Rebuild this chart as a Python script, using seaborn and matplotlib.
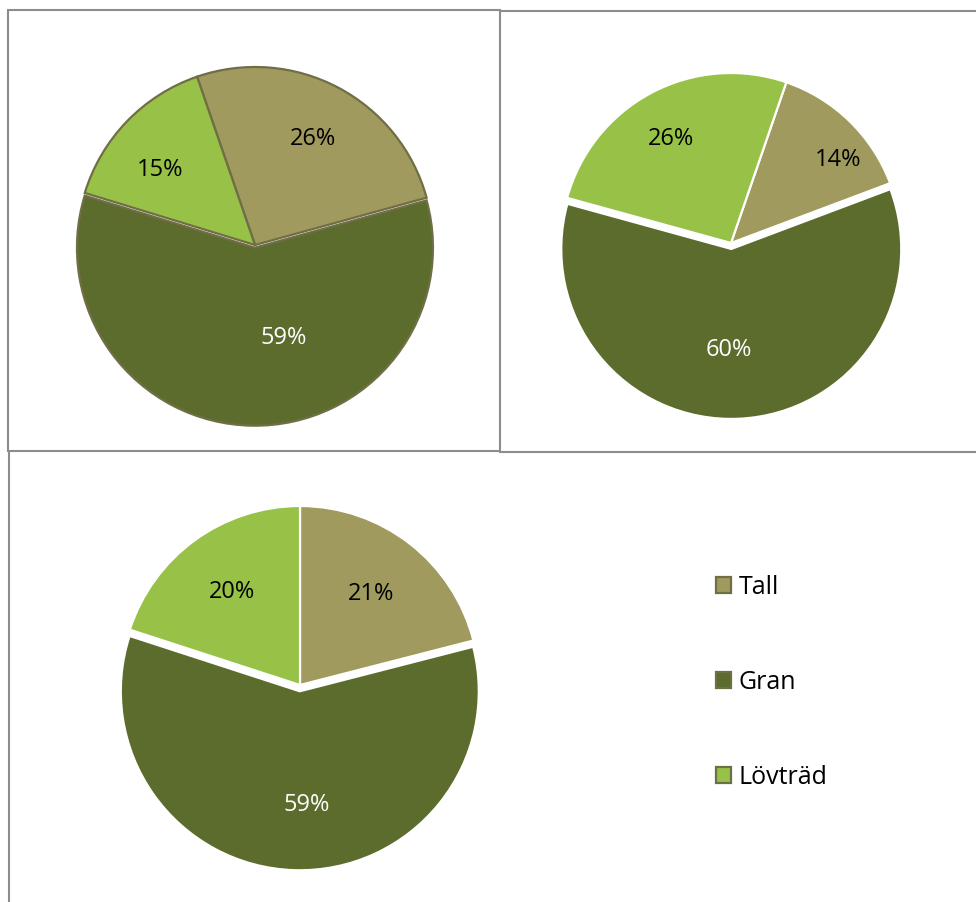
import matplotlib
matplotlib.use("Agg")
import matplotlib.pyplot as plt
from matplotlib.lines import Line2D
import seaborn as sns

# data
species = ["Tall", "Gran", "Lövträd"]
share_a = [26, 59, 15]
share_b = [14, 60, 26]
share_c = [21, 59, 20]

colors = ["#a19a5e", "#5b6c2d", "#97c247"]
text_colors = ["black", "white", "black"]

sns.set_theme(style="white")
plt.rcParams["font.family"] = ["Open Sans", "DejaVu Sans"]

W, H = 976, 903
fig = plt.figure(figsize=(W / 100, H / 100), dpi=100)


def px_axes(cx, cy, r):
    # axes whose data unit equals r pixels, centred on (cx, cy) in image pixels
    half = 1.25
    w = 2 * half * r / W
    h = 2 * half * r / H
    ax = fig.add_axes([cx / W - w / 2, 1 - cy / H - h / 2, w, h])
    ax.set_xlim(-half, half)
    ax.set_ylim(-half, half)
    ax.axis("off")
    return ax


def draw_pie(ax, values, start, explode, edge, pctdist, nudges):
    wedges, _, autotexts = ax.pie(
        values, colors=colors, startangle=start, counterclock=False,
        explode=explode, autopct="%.0f%%", pctdistance=pctdist,
        wedgeprops=dict(edgecolor=edge, linewidth=1.6),
        textprops=dict(fontsize=17))
    for t, c, (dx, dy) in zip(autotexts, text_colors, nudges):
        t.set_color(c)
        x, y = t.get_position()
        t.set_position((x + dx, y + dy))
    ax.set_xlim(-1.25, 1.25)
    ax.set_ylim(-1.25, 1.25)
    return wedges


ax1 = px_axes(255, 246, 178)
wedges = draw_pie(ax1, share_a, 109, (0, 0.015, 0), "#6f6e45", 0.70,
                  [(0, -0.02), (0.17, 0.2), (-0.03, -0.06)])

ax2 = px_axes(731, 244, 170)
draw_pie(ax2, share_b, 71, (0, 0.035, 0), "white", 0.72,
         [(0.13, -0.02), (-0.05, 0.13), (-0.02, -0.02)])

ax3 = px_axes(300, 686, 179)
draw_pie(ax3, share_c, 90, (0, 0.035, 0), "white", 0.65,
         [(0, 0), (0.06, 0.02), (0, 0)])

fig.legend(wedges, species, loc="center left",
           bbox_to_anchor=(706 / W, 1 - 683 / H), frameon=False,
           fontsize=18, labelcolor="black", handlelength=0.6,
           handleheight=0.6, handletextpad=0.3, labelspacing=2.8,
           borderaxespad=0)

# table-like frames around the charts
frame = "#8c8c8c"
segments = [
    ((8, 11), (500, 11)), ((8, 11), (8, 452)), ((500, 11), (500, 453)),
    ((8, 452), (500, 452)), ((500, 12), (976, 12)), ((500, 453), (976, 453)),
    ((9, 452), (9, 903)),
]
for (x0, y0), (x1, y1) in segments:
    fig.add_artist(Line2D([x0 / W, x1 / W], [1 - y0 / H, 1 - y1 / H],
                          transform=fig.transFigure, color=frame, lw=1.5))

fig.savefig("out.png", dpi=100, facecolor="white")
